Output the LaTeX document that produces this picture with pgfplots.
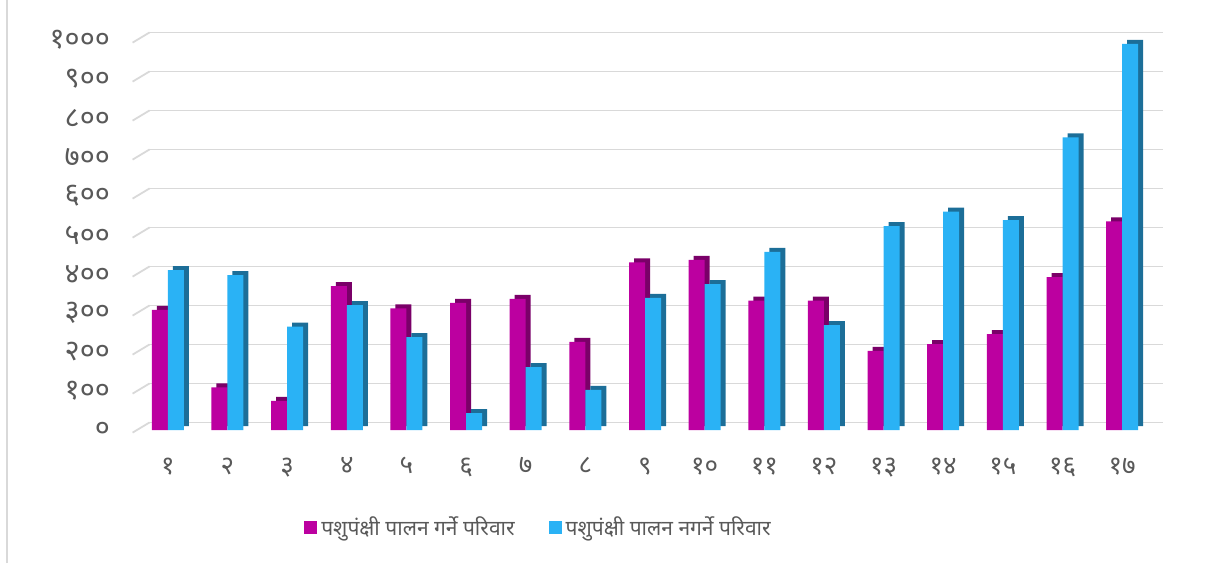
\documentclass[border=0pt]{standalone}
\usepackage{pgfplots}
\pgfplotsset{compat=1.18}
\usepackage{fontspec}
\setmainfont{Noto Sans}[Script=Devanagari]
\definecolor{mag}{HTML}{BC00A0}
\definecolor{magd}{HTML}{7A0068}
\definecolor{sky}{HTML}{2AB2F5}
\definecolor{skyd}{HTML}{1C6E98}
\definecolor{txt}{HTML}{595959}
\definecolor{gridc}{HTML}{D9D9D9}
\pgfplotstableread{
x mag sky
1 308 410
2 109 397
3 75 265
4 369 320
5 312 238
6 326 43
7 336 161
8 226 103
9 430 339
10 436 374
11 332 457
12 332 269
13 203 523
14 220 560
15 246 538
16 392 750
17 535 990
}\data
\begin{document}
\begin{tikzpicture}
\useasboundingbox (0,0) rectangle (604pt,281.5pt);
\draw[gridc, line width=0.8pt] (3.5pt,0) -- (3.5pt,281.5pt);
\foreach \v in {0,...,10}
  \draw[gridc, line width=0.9pt] (66.3pt,{66.5pt-1.3pt+\v*19.5pt}) -- (74.8pt,{66.5pt+3.8pt+\v*19.5pt});
\begin{axis}[
  at={(69pt,66.5pt)}, anchor=south west,
  scale only axis, width=507pt, height=195pt,
  ymin=0, ymax=1000, xmin=0.5, xmax=17.5,
  ybar, bar width=8pt, clip=false,
  axis line style={draw=none}, tick style={draw=none},
  ytick={0,100,...,1000},
  yticklabels={०,१००,२००,३००,४००,५००,६००,७००,८००,९००,१०००},
  xtick={1,...,17},
  xticklabels={१,२,३,४,५,६,७,८,९,१०,११,१२,१३,१४,१५,१६,१७},
  ymajorgrids,
  major grid style={draw=gridc, line width=0.8pt, yshift=3.8pt, xshift=5.5pt},
  tick label style={text=txt},
  yticklabel style={font=\fontsize{14.5}{16}\selectfont, xshift=-10.5pt},
  xticklabel style={font=\fontsize{13}{15}\selectfont, yshift=-6pt},
  legend style={at={(0.396,-0.251)}, anchor=center, draw=none, fill=none,
    legend columns=2, font=\fontsize{10.5}{13}\selectfont, text=txt,
    /tikz/every even column/.append style={column sep=15pt},
    /tikz/every odd column/.append style={inner xsep=1pt}},
  legend image code/.code={\fill[#1] (0pt,-3pt) rectangle (6.5pt,3.5pt);},
]
\addplot[draw=none, fill=magd, bar shift=-1.5pt, yshift=2pt, forget plot] table[x=x,y=mag]{\data};
\addplot[draw=none, fill=mag, bar shift=-4pt] table[x=x,y=mag]{\data};
\addplot[draw=none, fill=skyd, bar shift=6.5pt, yshift=2pt, forget plot] table[x=x,y=sky]{\data};
\addplot[draw=none, fill=sky, bar shift=4pt] table[x=x,y=sky]{\data};
\legend{पशुपंक्षी पालन गर्ने परिवार, पशुपंक्षी पालन नगर्ने परिवार}
\end{axis}
\end{tikzpicture}
\end{document}
